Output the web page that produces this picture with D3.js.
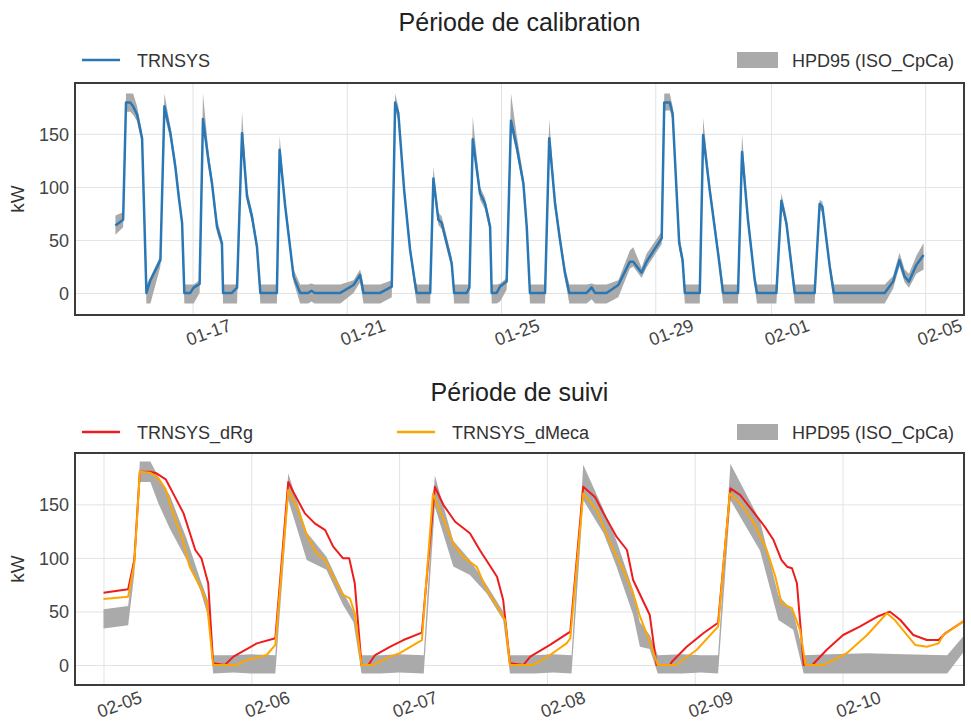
<!DOCTYPE html>
<html>
<head>
<meta charset="utf-8">
<script src="https://cdn.jsdelivr.net/npm/d3@7"></script>
<style>
  body { margin: 0; background: #fff; }
  svg { font-family: "Liberation Sans", Arial, sans-serif; }
  .grid line { stroke: #e3e3e3; stroke-width: 1; }
  .grid path { display: none; }
  .axis path { display: none; }
  .axis text { fill: #444; font-size: 18px; }
</style>
</head>
<body>
<script>
// hours from 2021-01-15 00:00, kW
const trnsysCal = [
  [0,63.5],[4.8,69],[6.6,179.5],[9.3,179.5],[11,176],[13.5,168],[16.6,146],[19.3,0],[21.8,12],[28,31],
  [30.5,176],[34.2,151],[37.3,119],[39.4,91],[41.5,66],[42.9,0],[46.6,0],[48.7,5],[52.4,8.5],
  [54.5,164],[58,124],[60.1,103.5],[63.2,62.5],[66.3,47],[67,0],[72.5,0],[75.7,5],
  [78.8,150.7],[81.9,91],[85,72],[88.1,43.7],[90.2,0],[100.5,0],
  [102.2,135],[105.7,81.4],[110.9,15.4],[115,0],[120,0],[122,2],[124,0],[140,0],[148.2,7.5],[152.3,17],[154.4,0],[164.8,0],[172,6],
  [174.1,179.5],[176.1,169.5],[179.7,97],[183.4,40.6],[186.5,9],[187.5,0],[195.9,0],
  [197.9,108],[201,69],[203.1,66],[209.3,28],[210.8,0],[218.7,0],[220.3,5],
  [222.4,145],[226.9,94],[230,84.6],[233.2,62.5],[234.2,0],[237.3,0],[239.4,6],[243.5,10.7],
  [246.2,162.5],[249.7,138],[253.9,103.5],[256,62.5],[258,0],[267.4,0],
  [270,146],[273.6,84.6],[276.7,50],[279.8,18.6],[282.5,0],[293.3,0],[296.4,5.3],[298.5,0],[305.7,0],
  [313,7.5],[320.2,29.5],[322.3,29.5],[327.5,19],[330.6,29.5],[340,51.6],
  [341.6,179.5],[345,179.5],[346.8,169.5],[350.9,47],[353,31],[354.4,0],[363.7,0],
  [365.8,149],[369.9,97],[375.1,37.4],[378.2,0],[387.5,0],
  [390,133],[393.7,69],[397.9,12],[399.3,0],[411.4,0],
  [414.5,87],[417.6,66],[422.8,0],[435.2,0],
  [438.3,84],[440,81.4],[444.6,24.8],[447.1,0],[478.8,0],
  [484,10.7],[488,31],[491.2,15.4],[493.9,10.7],[498.5,26.4],[503,35.8]
];
// [hour, low, high]
const hpdCal = [
  [0,55,73],[4.8,62,76],[6.6,171,188],[9.3,171,188],[11,168,188],[13.5,162,176],[16.6,140,152],[19.3,-10,8],[21.8,-10,15],[28,25,35],
  [30.5,168,188],[34.2,145,157],[37.3,114,126],[39.4,86,98],[41.5,60,72],[42.9,-10,8],[46.6,-10,8],[48.7,-10,8],[52.4,0,12],
  [54.5,158,188],[58,118,132],[60.1,98,110],[63.2,57,70],[66.3,42,52],[67,-10,8],[72.5,-10,8],[75.7,-10,8],
  [78.8,144,171],[81.9,86,98],[85,66,78],[88.1,38,50],[90.2,-10,8],[100.5,-10,8],
  [102.2,130,148],[105.7,76,88],[110.9,10,22],[115,-10,8],[120,-10,8],[122,-8,9],[124,-10,8],[140,-10,8],[148.2,0,12],[152.3,10,22],[154.4,-10,8],[164.8,-10,8],[172,-4,12],
  [174.1,172,188],[176.1,163,176],[179.7,92,104],[183.4,36,47],[186.5,0,14],[187.5,-10,8],[195.9,-10,8],
  [197.9,102,119],[201,64,76],[203.1,60,72],[209.3,23,34],[210.8,-10,8],[218.7,-10,8],[220.3,-10,8],
  [222.4,139,166],[226.9,88,100],[230,79,90],[233.2,57,68],[234.2,-10,8],[237.3,-10,8],[239.4,-8,9],[243.5,3,14],
  [246.2,156,188],[249.7,132,150],[253.9,98,110],[256,57,70],[258,-10,8],[267.4,-10,8],
  [270,140,164],[273.6,79,92],[276.7,45,57],[279.8,13,25],[282.5,-10,8],[293.3,-10,8],[296.4,-6,9],[298.5,-10,8],[305.7,-10,8],
  [313,-4,12],[320.2,23,40],[322.3,25,43],[327.5,14,24],[330.6,24,37],[340,46,58],
  [341.6,172,188],[345,172,188],[346.8,163,176],[350.9,41,54],[353,25,37],[354.4,-10,8],[363.7,-10,8],
  [365.8,143,165],[369.9,92,104],[375.1,32,44],[378.2,-10,8],[387.5,-10,8],
  [390,128,150],[393.7,64,76],[397.9,6,18],[399.3,-10,8],[411.4,-10,8],
  [414.5,82,94],[417.6,61,72],[422.8,-10,8],[435.2,-10,8],
  [438.3,79,88],[440,76,86],[444.6,19,30],[447.1,-10,8],[478.8,-10,8],
  [484,4,16],[488,25,38],[491.2,10,22],[493.9,5,18],[498.5,18,35],[503,22,47]
];

// hours from 2021-02-05 00:00, kW
const dRg = [
  [0,67.5],[4,70.7],[5,98],[5.9,180.5],[7.6,180.5],[8.6,179],[10.1,173.4],[11.6,157],[13,141.6],[14.9,107.4],[15.9,99.6],[17,76.3],[17.8,1.6],[19.7,0],
  [21.1,7.8],[24.9,20.2],[27.9,25],[30,171],[30.8,161.8],[32.7,141.6],[34.3,132.3],[36,126],[37.3,110.5],[38.9,99.6],[39.9,99.6],[40.8,76.3],[41.9,0],[43,0],
  [44.1,9.3],[46.5,17],[48.7,23.3],[51.7,30.2],[53.8,166.5],[55.2,149.4],[57.1,133.8],[59.5,123],[61.1,107.4],[63.9,82.4],[64.9,60.7],[66,1.6],[68.2,0],
  [69.3,7.8],[72.5,18.7],[75.8,31.1],[77.9,166.5],[79.8,157],[81.2,141.6],[83.3,119.8],[85,107.4],[86,79.4],[88.7,46.7],[89.8,0],[92,0],
  [92.3,3],[94.7,17],[97.4,29.6],[99.8,39.5],[101.8,165],[103.4,158.7],[105.3,144.7],[107.4,129],[108.8,116.7],[110.1,98],[111,91.8],[111.8,90.3],[112.6,76.3],[113.7,0],[115.1,0],
  [117.4,14],[120.1,28],[122.8,35.8],[125.6,45],[127.7,49.8],[129.4,42],[131.5,28],[133.7,23.3],[135.6,23.3],[136.7,29.6],[139.8,41.4]
];
const dMeca = [
  [0,61.6],[4,63.8],[5,95],[5.9,180.5],[7.6,179.5],[8.9,174.3],[10.1,164],[11.3,141.6],[12.7,119.8],[14,91.8],[15.7,73],[16.8,57.6],[17.8,0],[21.6,0],
  [23.3,4.7],[26.5,9.3],[27.9,18.7],[30,163.4],[31.6,144.7],[33,121.4],[34.6,104.3],[36,98],[37.3,82.4],[38.9,65.4],[40,62.3],[40.8,48.3],[41.9,0],[43.8,0],
  [46.5,7.8],[48.1,11],[51.7,23.3],[53.5,160],[56.8,113.6],[58.4,101],[60.6,91.8],[62,73],[63.6,57.6],[65.2,42],[66,0],[69.8,0],
  [72.5,9.3],[75.2,20.2],[75.8,25],[77.9,160.3],[80.1,144.7],[82.3,113.6],[84.4,88.7],[86,67],[87.1,45.6],[88.7,21.8],[90,0],[92.9,0],
  [96.3,14],[99.8,35.8],[101.7,160.3],[103.4,151],[105.5,133.8],[107.7,107.4],[109.1,82.4],[110.1,57.6],[111.8,53],[113.1,32.7],[114,0],[117,0],
  [120.7,11],[124,28],[127.2,48.3],[128.5,42],[131.8,18.7],[133.7,17],[135.6,20.2],[136.4,28],[139.8,41.4]
];
const hpdSuivi = [
  [0,34,52],[4,37,55],[5,85,105],[5.9,171,190],[7.6,171,190],[8.9,151,176],[10.8,127,158],[13.5,98,118],[15.7,70,80],[17,45,60],[17.8,-8,9],
  [21,-7,9],[24,-8,10],[27.9,-8,9],[30,154,179],[33,98,124],[36.2,89,101],[38.9,56,68],[40.6,40,50],[41.9,-8,9],
  [45,-8,9],[48,-7,10],[52,-8,9],[53.8,148,177],[56.8,92,116],[59.5,84,98],[62.2,67,75],[64.9,42,50],[66,-8,9],
  [70,-8,9],[73,-7,10],[76,-8,9],[77.9,154,187],[81.2,123,145],[83.3,92,116],[86,47,70],[87.1,17,40],[88.7,15,28],[90,-8,9],
  [94,-8,10],[97,-7,9],[99.8,-8,9],[101.8,154,188],[106.6,107,135],[109.6,42,65],[112,33,50],[113.7,-8,9],
  [118,-8,10],[124,-8,11],[130,-8,10],[137,-8,9],[139.8,13,28]
];

const calTicks = ["01-17", "01-21", "01-25", "01-29", "02-01", "02-05"];
const suiviTicks = ["02-05", "02-06", "02-07", "02-08", "02-09", "02-10"];
const yTicks = [0, 50, 100, 150];

const W = 971, H = 725;
const parseDay = d3.timeParse("%Y-%m-%d");
const calStart = parseDay("2021-01-15");
const suiviStart = parseDay("2021-02-05");
const at = (t0, h) => new Date(t0.getTime() + h * 3600e3);

const svg = d3.select("body").append("svg").attr("width", W).attr("height", H);

function panel(opts) {
  const m = opts.box;
  const w = m.right - m.left, h = m.bottom - m.top;
  const g = svg.append("g").attr("transform", `translate(${m.left},${m.top})`);
  const x = d3.scaleTime().domain(opts.xDomain).range([0, w]);
  const y = d3.scaleLinear().domain(opts.yDomain).range([h, 0]);
  const tickDates = opts.ticks.map(s => parseDay("2021-" + s));

  g.append("g").attr("class", "grid").attr("transform", `translate(0,${h})`)
    .call(d3.axisBottom(x).tickValues(tickDates).tickSize(-h).tickFormat(""));
  g.append("g").attr("class", "grid")
    .call(d3.axisLeft(y).tickValues(yTicks).tickSize(-w).tickFormat(""));

  const clipId = "clip" + opts.id;
  svg.append("clipPath").attr("id", clipId).append("rect").attr("width", w).attr("height", h);
  const plot = g.append("g").attr("clip-path", `url(#${clipId})`);

  plot.append("path").datum(opts.band)
    .attr("fill", "#aaaaaa")
    .attr("d", d3.area().x(d => x(at(opts.t0, d[0]))).y0(d => y(d[1])).y1(d => y(d[2])));

  opts.lines.forEach(l => {
    plot.append("path").datum(l.data)
      .attr("fill", "none").attr("stroke", l.color).attr("stroke-width", l.width)
      .attr("stroke-linejoin", "round")
      .attr("d", d3.line().x(d => x(at(opts.t0, d[0]))).y(d => y(d[1])));
  });

  g.append("rect").attr("width", w).attr("height", h)
    .attr("fill", "none").attr("stroke", "#3c3c3c").attr("stroke-width", 2);

  const ya = g.append("g").attr("class", "axis")
    .call(d3.axisLeft(y).tickValues(yTicks).tickSize(0).tickPadding(6));
  ya.selectAll("text").attr("dy", "0.36em");

  const xa = g.append("g").attr("class", "axis").attr("transform", `translate(0,${h})`)
    .call(d3.axisBottom(x).tickValues(tickDates).tickFormat(d3.timeFormat("%m-%d")).tickSize(0));
  xa.selectAll("text")
    .attr("y", 0).attr("dy", 0).attr("text-anchor", "start")
    .attr("transform", function (d) {
      let dx = -4;
      const len = this.getComputedTextLength() * Math.cos(20 * Math.PI / 180);
      const right = m.left + x(d) + dx + len;
      if (right > W - 8) dx -= right - (W - 8);
      return `translate(${dx},${opts.labelDy}) rotate(-20)`;
    });

  svg.append("text").attr("transform", `translate(24,${m.top + h / 2}) rotate(-90)`)
    .attr("text-anchor", "middle").attr("font-size", 19).attr("fill", "#333").text("kW");

  svg.append("text").attr("x", m.left + w / 2).attr("y", opts.titleY)
    .attr("text-anchor", "middle").attr("font-size", 25).attr("fill", "#222").text(opts.title);

  // legend
  const lg = svg.append("g").attr("font-size", 18).attr("fill", "#333");
  opts.legend.forEach(it => {
    if (it.kind === "line") {
      lg.append("line").attr("x1", it.x).attr("x2", it.x + 38)
        .attr("y1", opts.legendY).attr("y2", opts.legendY)
        .attr("stroke", it.color).attr("stroke-width", 2.5);
    } else {
      lg.append("rect").attr("x", it.x).attr("y", opts.legendY - 8)
        .attr("width", 41).attr("height", 16).attr("fill", it.color);
    }
    lg.append("text").attr("x", it.x + 55).attr("y", opts.legendY + 6.5).text(it.label);
  });
}

const calExt = d3.extent(trnsysCal, d => d[0]);
const calPad = (calExt[1] - calExt[0]) * 0.05;

panel({
  id: "cal", t0: calStart,
  box: { left: 75, right: 964, top: 83, bottom: 315 },
  xDomain: [at(calStart, calExt[0] - calPad), at(calStart, calExt[1] + calPad)],
  yDomain: [-20.8, 198],
  ticks: calTicks, labelDy: 31,
  band: hpdCal,
  lines: [{ data: trnsysCal, color: "#2a77b5", width: 2.5 }],
  title: "Période de calibration", titleY: 31,
  legendY: 60,
  legend: [
    { kind: "line", x: 82, color: "#2a77b5", label: "TRNSYS" },
    { kind: "rect", x: 737, color: "#aaaaaa", label: "HPD95 (ISO_CpCa)" }
  ]
});

panel({
  id: "suivi", t0: suiviStart,
  box: { left: 75, right: 964, top: 453, bottom: 685 },
  xDomain: [at(suiviStart, -4.63), at(suiviStart, 139.73)],
  yDomain: [-18.7, 198],
  ticks: suiviTicks, labelDy: 33,
  band: hpdSuivi,
  lines: [
    { data: dRg, color: "#ee1c1c", width: 2 },
    { data: dMeca, color: "#ffa500", width: 2 }
  ],
  title: "Période de suivi", titleY: 401,
  legendY: 432,
  legend: [
    { kind: "line", x: 82, color: "#ee1c1c", label: "TRNSYS_dRg" },
    { kind: "line", x: 397, color: "#ffa500", label: "TRNSYS_dMeca" },
    { kind: "rect", x: 737, color: "#aaaaaa", label: "HPD95 (ISO_CpCa)" }
  ]
});
</script>
</body>
</html>
